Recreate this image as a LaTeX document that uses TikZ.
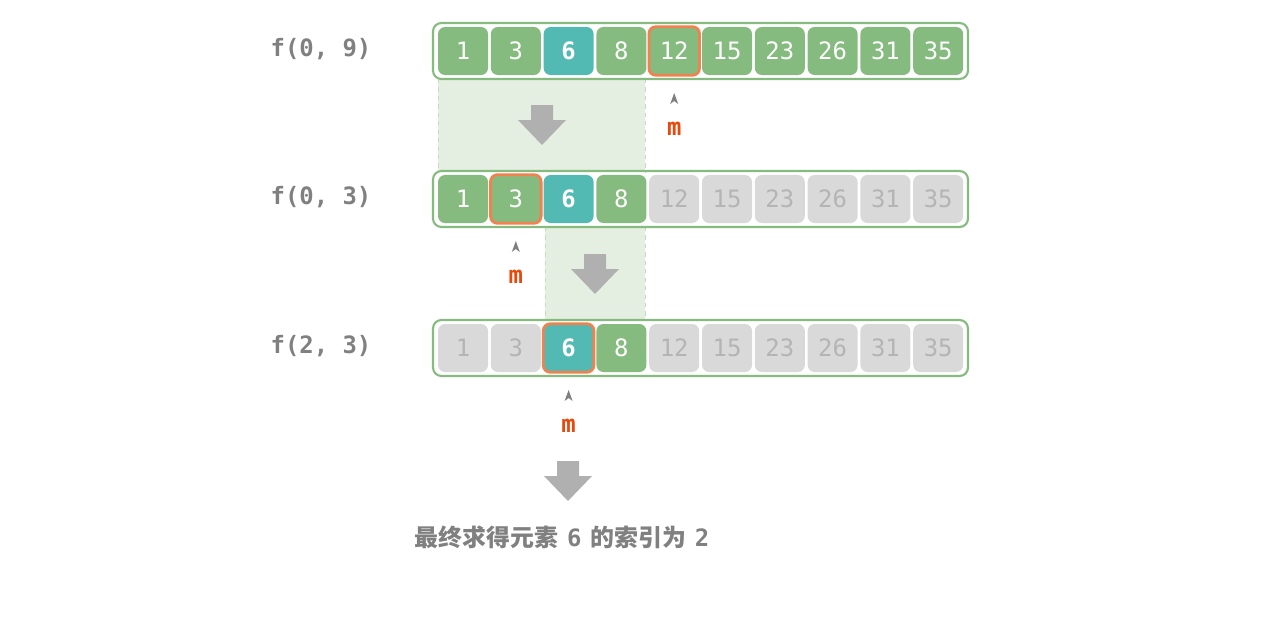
\documentclass[tikz,border=0pt]{standalone}
\usepackage{fontspec}
\setmonofont{DejaVu Sans Mono}
\newfontfamily\cjk{Noto Sans CJK SC}
\definecolor{cellgreen}{HTML}{86BB7F}
\definecolor{cellteal}{HTML}{52B9B3}
\definecolor{cellgrey}{HTML}{D9D9D9}
\definecolor{txtgrey}{HTML}{B4B4B4}
\definecolor{labgrey}{HTML}{808080}
\definecolor{hilite}{HTML}{F0824F}
\definecolor{mred}{HTML}{E8480C}
\definecolor{zonefill}{HTML}{E4EFE2}
\definecolor{arrgrey}{HTML}{B0B0B0}
\tikzset{
  cell/.style={rounded corners=5pt, minimum width=1.25cm, minimum height=1.2cm, inner sep=0pt,
    font=\ttfamily\fontsize{17}{17}\selectfont, text=white},
  on/.style={cell, fill=cellgreen},
  off/.style={cell, fill=cellgrey, text=txtgrey},
  tgt/.style={cell, fill=cellteal, font=\ttfamily\bfseries\fontsize{17}{17}\selectfont},
  mid/.style={draw=hilite, line width=2pt},
  frame/.style={draw=cellgreen, line width=1.5pt, rounded corners=6pt},
  rowlab/.style={text=labgrey, font=\ttfamily\bfseries\fontsize{17}{17}\selectfont},
  mlab/.style={text=mred, font=\ttfamily\bfseries\fontsize{17}{17}\selectfont},
  zoneline/.style={draw=cellgreen!50, dashed}
}
\begin{document}
\begin{tikzpicture}[x=0.025cm, y=-0.025cm]
\useasboundingbox (0,0) rectangle (1280,625);
% shaded ranges
\fill[zonefill] (438,79) rectangle (645,172);
\draw[zoneline] (438,79) -- (438,172) (645,79) -- (645,172);
\fill[zonefill] (545,227) rectangle (645,320);
\draw[zoneline] (545,227) -- (545,320) (645,227) -- (645,320);
% rows
\foreach \r/\y/\lab/\lo/\hi/\m in {a/51/{f(0, 9)}/0/9/4, b/199/{f(0, 3)}/0/3/1, c/348/{f(2, 3)}/2/3/2} {
  \draw[frame] (433,\y-28) rectangle (968,\y+28);
  \node[rowlab] (lab\r) at (321,\y-2) {\lab};
  \foreach \v [count=\i from 0] in {1,3,6,8,12,15,23,26,31,35} {
    \pgfmathtruncatemacro{\inside}{(\i>=\lo)&&(\i<=\hi)}
    \ifnum\i=2
      \node[tgt] (\r\i) at (463+52.8*\i,\y) {\v};
    \else\ifnum\inside=1
      \node[on] (\r\i) at (463+52.8*\i,\y) {\v};
    \else
      \node[off] (\r\i) at (463+52.8*\i,\y) {\v};
    \fi\fi
    \ifnum\i=\m
      \draw[mid, rounded corners=5pt] (\r\i.south west) rectangle (\r\i.north east);
      \fill[labgrey] (463+52.8*\i,\y+42) -- (463+52.8*\i+4,\y+53) -- (463+52.8*\i,\y+50)
        -- (463+52.8*\i-4,\y+53) -- cycle;
      \node[mlab] (m\r) at (463+52.8*\i,\y+78) {m};
    \fi
  }
}
% arrows
\foreach \x/\y in {542/105, 595/254, 568/461} {
  \fill[arrgrey] (\x-11,\y) -- (\x+11,\y) -- (\x+11,\y+15) -- (\x+24,\y+15)
    -- (\x,\y+40) -- (\x-24,\y+15) -- (\x-11,\y+15) -- cycle;
}
\node[text=labgrey, font=\bfseries\fontsize{17}{17}\selectfont] (res) at (562,537)
  {{\cjk\bfseries 最终求得元素}\ \texttt{6}\ {\cjk\bfseries 的索引为}\ \texttt{2}};
\end{tikzpicture}
\end{document}
